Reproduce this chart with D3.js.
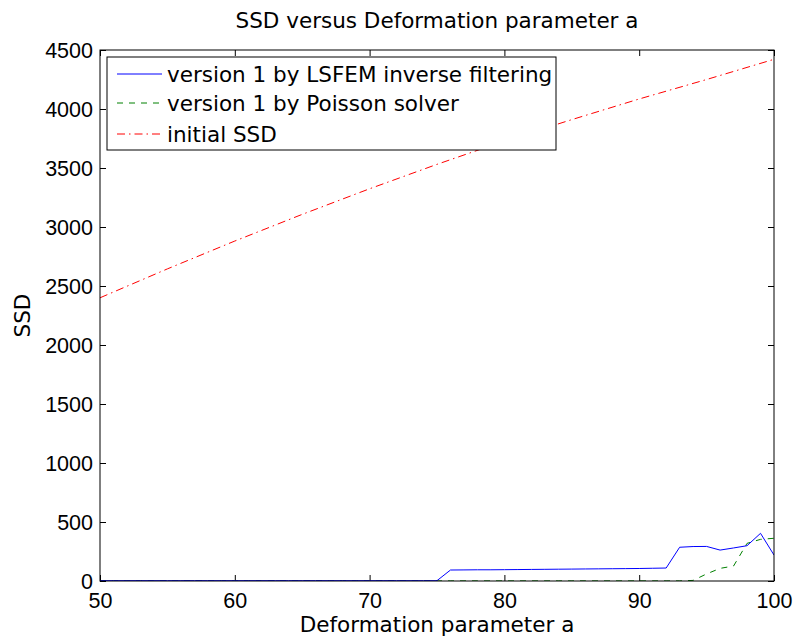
<!DOCTYPE html>
<html>
<head>
<meta charset="utf-8">
<script src="https://cdn.jsdelivr.net/npm/d3@7"></script>
<style>
  body { margin: 0; background: #fff; }
  svg { font-family: "DejaVu Sans", "Liberation Sans", Arial, sans-serif; }
</style>
</head>
<body>
<svg width="797" height="637"></svg>
<script>
// deformation parameter a, 50..100
var aValues = d3.range(50, 101);

// SSD, version 1 by LSFEM inverse filtering
var lsfemSSD = [3,3,3,3,3,3,3,3,3,3,
                3,3,3,3,3,3,3,3,3,3,
                3,3,3,3,3,3,
                93,94,95,95,96,97,98,99,100,101,102,103,104,105,106,108,110,
                286,292,293,262,280,299,404,220];

// SSD, version 1 by Poisson solver
var poissonSSD = [1,1,1,1,1,1,1,1,1,1,
                  1,1,1,1,1,1,1,1,1,1,
                  1,1,1,1,1,1,1,1,1,1,
                  1,1,1,1,1,1,1,1,1,1,
                  1,1,1,1,
                  5,60,107,127,319,353,362];

// initial SSD, read every 5 units
var initialA   = [50, 55, 60, 65, 70, 75, 80, 85, 90, 95, 100];
var initialSSD = [2400, 2645, 2881, 3107, 3324, 3531, 3729, 3910, 4085, 4250, 4421];

var xTicks = [50, 60, 70, 80, 90, 100];
var yTicks = [0, 500, 1000, 1500, 2000, 2500, 3000, 3500, 4000, 4500];

var legendNames = ["version 1 by LSFEM inverse filtering", "version 1 by Poisson solver", "initial SSD"];

var fontSize = 21.5;

var svg = d3.select("svg");
var margin = {top: 50, right: 23, bottom: 56, left: 100};
var width = 797 - margin.left - margin.right;   // 674
var height = 637 - margin.top - margin.bottom;  // 531

var g = svg.append("g")
    .attr("transform", "translate(" + margin.left + "," + margin.top + ")");

var x = d3.scaleLinear().domain([50, 100]).range([0, width]);
var y = d3.scaleLinear().domain([0, 4500]).range([height, 0]);

svg.append("defs").append("clipPath").attr("id", "clip")
    .append("rect").attr("width", width).attr("height", height);

// axes, ticks pointing inward like matlab
var tickLen = 6;
function styleAxis(sel) {
    sel.select(".domain").remove();
    sel.selectAll(".tick line").attr("stroke", "#000");
    sel.selectAll("text").attr("font-size", fontSize).attr("fill", "#000");
}

g.append("g")
    .attr("transform", "translate(0," + height + ")")
    .call(d3.axisBottom(x).tickValues(xTicks).tickFormat(d3.format("d")).tickSizeInner(-tickLen).tickSizeOuter(0))
    .call(styleAxis)
    .selectAll("text").attr("dy", "0.71em").attr("y", 12);

g.append("g")
    .call(d3.axisTop(x).tickValues(xTicks).tickSizeInner(-tickLen).tickSizeOuter(0))
    .call(styleAxis)
    .selectAll("text").remove();

g.append("g")
    .call(d3.axisLeft(y).tickValues(yTicks).tickFormat(d3.format("d")).tickSizeInner(-tickLen).tickSizeOuter(0))
    .call(styleAxis)
    .selectAll("text").attr("x", -7).attr("dy", "0.34em");

g.append("g")
    .attr("transform", "translate(" + width + ",0)")
    .call(d3.axisRight(y).tickValues(yTicks).tickSizeInner(-tickLen).tickSizeOuter(0))
    .call(styleAxis)
    .selectAll("text").remove();

// lines
var line = d3.line()
    .x(function(d) { return x(d[0]); })
    .y(function(d) { return y(d[1]); });

var lines = g.append("g").attr("clip-path", "url(#clip)");

lines.append("path")
    .datum(d3.zip(initialA, initialSSD))
    .attr("d", line)
    .attr("fill", "none")
    .attr("stroke", "#ff0000")
    .attr("stroke-width", 1)
    .attr("stroke-dasharray", "8,4,1.5,4");

lines.append("path")
    .datum(d3.zip(aValues, poissonSSD))
    .attr("d", line)
    .attr("fill", "none")
    .attr("stroke", "#008000")
    .attr("stroke-width", 1)
    .attr("stroke-dasharray", "6,6");

lines.append("path")
    .datum(d3.zip(aValues, lsfemSSD))
    .attr("d", line)
    .attr("fill", "none")
    .attr("stroke", "#0000ff")
    .attr("stroke-width", 1);

// box
g.append("rect")
    .attr("width", width).attr("height", height)
    .attr("fill", "none").attr("stroke", "#000").attr("stroke-width", 1);

// legend
var legend = svg.append("g").attr("transform", "translate(107,57)");
legend.append("rect")
    .attr("width", 449).attr("height", 93)
    .attr("fill", "#fff").attr("stroke", "#000").attr("stroke-width", 1);

var legendStyles = [
    {color: "#0000ff", dash: null},
    {color: "#008000", dash: "6,6"},
    {color: "#ff0000", dash: "8,4,1.5,4"}
];
var rowY = [17, 46, 77];

legend.selectAll(".item")
    .data(legendNames)
    .enter().append("g")
    .attr("class", "item")
    .each(function(d, i) {
        var item = d3.select(this);
        item.append("line")
            .attr("x1", 10).attr("x2", 55)
            .attr("y1", rowY[i]).attr("y2", rowY[i])
            .attr("stroke", legendStyles[i].color)
            .attr("stroke-width", 1)
            .attr("stroke-dasharray", legendStyles[i].dash);
        item.append("text")
            .attr("x", 60).attr("y", rowY[i] + 8)
            .attr("font-size", fontSize)
            .text(d);
    });

// title and axis labels
svg.append("text")
    .attr("x", margin.left + width / 2).attr("y", 28)
    .attr("text-anchor", "middle").attr("font-size", fontSize)
    .text("SSD versus Deformation parameter a");

svg.append("text")
    .attr("x", margin.left + width / 2).attr("y", 632)
    .attr("text-anchor", "middle").attr("font-size", fontSize)
    .text("Deformation parameter a");

svg.append("text")
    .attr("transform", "translate(30," + (margin.top + height / 2) + ") rotate(-90)")
    .attr("text-anchor", "middle").attr("font-size", fontSize)
    .text("SSD");
</script>
</body>
</html>
